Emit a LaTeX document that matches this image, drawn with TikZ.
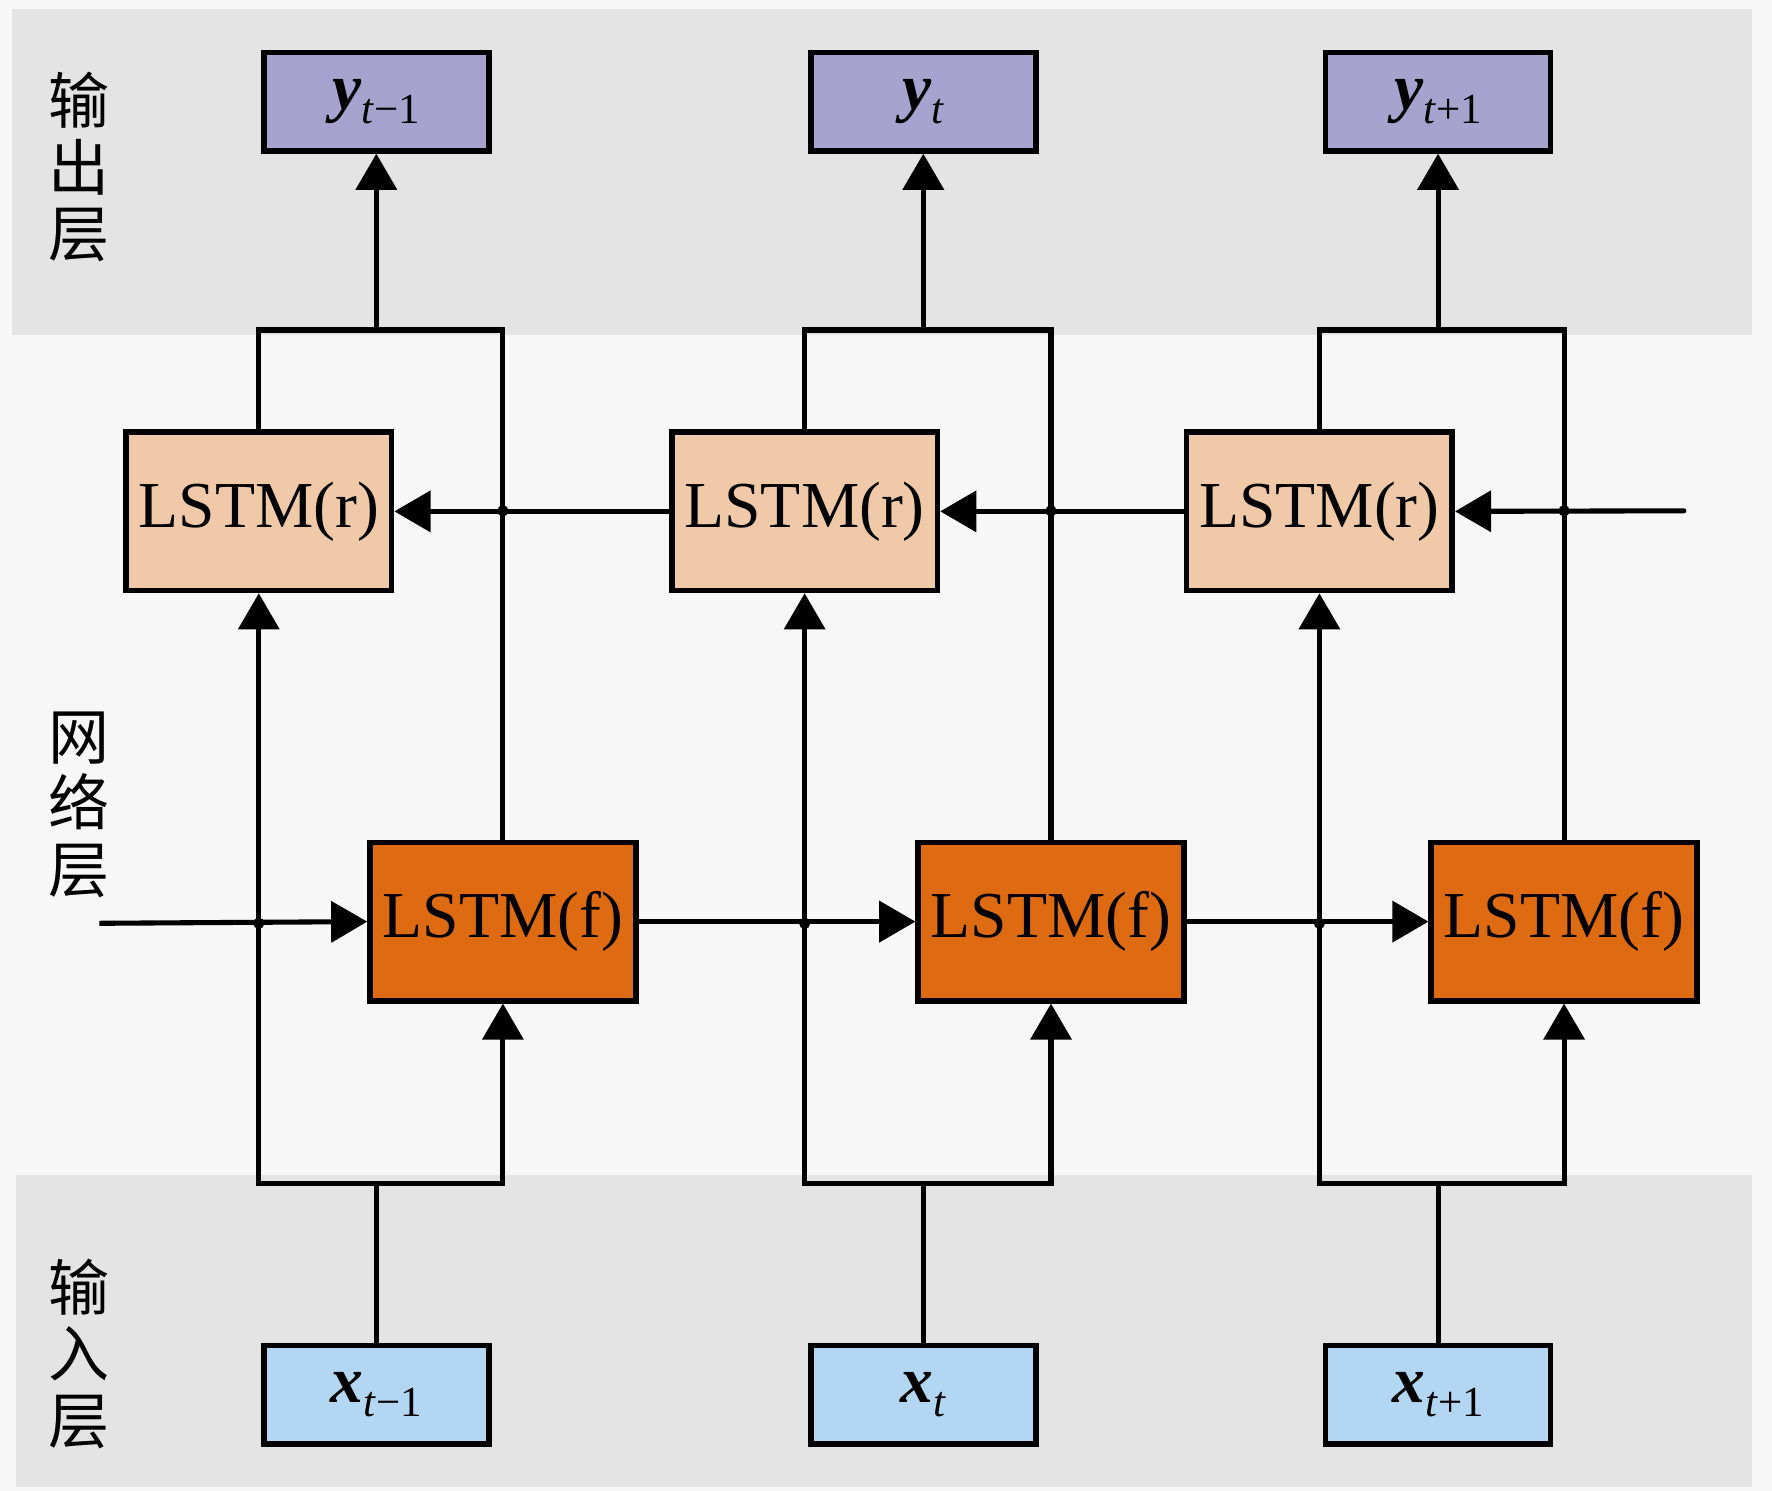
\documentclass[tikz,border=0pt]{standalone}
\usepackage{fontspec}
\setmainfont{Liberation Serif}
\newfontfamily\cjk{Noto Sans CJK SC}
\usetikzlibrary{arrows.meta}
\definecolor{bgcol}{HTML}{F7F7F7}
\definecolor{bandcol}{HTML}{E4E4E4}
\definecolor{ycol}{HTML}{A8A2CE}
\definecolor{xcol}{HTML}{B3D7F2}
\definecolor{rcol}{HTML}{EFC9A8}
\definecolor{fcol}{HTML}{DE6A11}
\newcommand{\sublab}[2]{{\fontsize{58}{58}\selectfont\textbf{\textit{#1}}}\raisebox{-12pt}{\fontsize{38}{38}\selectfont\textit{t}#2}}
\begin{document}
\begin{tikzpicture}[x=1pt,y=-1pt,
  box/.style={draw=black,line width=5pt,inner sep=0pt},
  iobox/.style={box,minimum width=199pt,minimum height=87pt},
  ybox/.style={iobox,fill=ycol},
  xbox/.style={iobox,fill=xcol},
  lbox/.style={box,minimum width=235pt,minimum height=140pt,font=\fontsize{58}{58}\selectfont},
  rbox/.style={lbox,fill=rcol},
  fbox/.style={lbox,fill=fcol},
  conn/.style={line width=4.5pt,draw=black},
  arr/.style={conn,-{Triangle[length=32pt,width=36pt]}},
  jdot/.style={circle,fill=black,inner sep=0pt,minimum size=10pt},
  layerlab/.style={font=\cjk\fontsize{54}{59}\selectfont,align=center,inner sep=0pt}]
% background
\fill[bgcol] (0,0) rectangle (1568,1319);
\useasboundingbox (0,0) rectangle (1568,1319);
\fill[bandcol] (11,8) rectangle (1550,296);
\fill[bandcol] (14,1040) rectangle (1550,1316);
% layer labels
\node[layerlab] (lout) at (70,148) {输\\出\\层};
\node[layerlab] (lnet) at (70,712) {网\\络\\层};
\node[layerlab] (lin) at (70,1198) {输\\入\\层};
% nodes
\node[ybox] (y1) at (333,90) {\sublab{y}{−1}};
\node[ybox] (y2) at (817,90) {\sublab{y}{}};
\node[ybox] (y3) at (1272.5,90) {\sublab{y}{+1}};
\node[xbox] (x1) at (333,1234) {\sublab{x}{−1}};
\node[xbox] (x2) at (817,1234) {\sublab{x}{}};
\node[xbox] (x3) at (1272.5,1234) {\sublab{x}{+1}};
\node[rbox] (r1) at (229,452.5) {LSTM(r)};
\node[rbox] (r2) at (712,452.5) {LSTM(r)};
\node[rbox] (r3) at (1167.5,452.5) {LSTM(r)};
\node[fbox] (f1) at (445,815.5) {LSTM(f)};
\node[fbox] (f2) at (930,815.5) {LSTM(f)};
\node[fbox] (f3) at (1384,815.5) {LSTM(f)};
% coordinates
\coordinate (fs) at (88,817);
\coordinate (rs) at (1490,452);
\foreach \i in {1,2,3}{
  \coordinate (t\i) at (y\i.south |- 0,292);
  \coordinate (b\i) at (x\i.north |- 0,1047);
}
% connectors
\foreach \i in {1,2,3}{
  \draw[conn] (x\i.north) -- (b\i);
  \draw[arr] (b\i) -| (r\i.south);
  \draw[arr] (b\i) -| (f\i.south);
  \draw[conn] (r\i.north) |- (t\i);
  \draw[conn] (f\i.north) |- (t\i);
  \draw[arr] (t\i) -- (y\i.south);
}
\draw[arr] (fs) -- (f1.west);
\draw[arr] (f1.east) -- (f2.west);
\draw[arr] (f2.east) -- (f3.west);
\draw[arr,line cap=round] (rs) -- (r3.east);
\draw[arr] (r3.west) -- (r2.east);
\draw[arr] (r2.west) -- (r1.east);
% junction dots
\foreach \i in {1,2,3}{
  \node[jdot] (jf\i) at (r\i.south |- fs) {};
  \node[jdot] (jr\i) at (f\i.north |- rs) {};
}
\end{tikzpicture}
\end{document}
